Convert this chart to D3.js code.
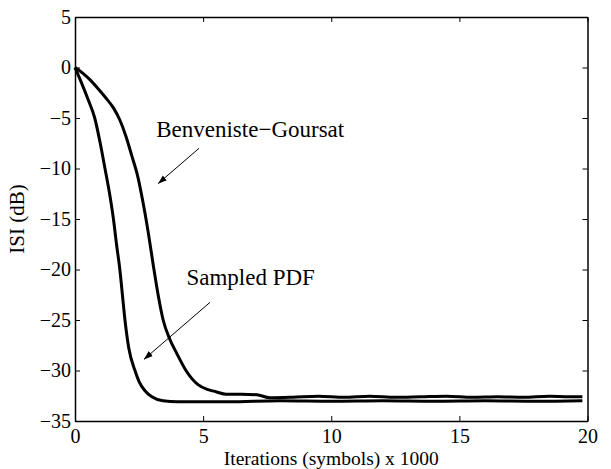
<!DOCTYPE html>
<html>
<head>
<meta charset="utf-8">
<script src="https://cdn.jsdelivr.net/npm/d3@7"></script>
<style>
  body { margin: 0; background: #fff; }
  text { font-family: "Liberation Serif", "Times New Roman", serif; fill: #000; }
</style>
</head>
<body>
<svg id="chart" width="611" height="469"></svg>
<script>
// Benveniste-Goursat curve (x in thousands of symbols, ISI in dB)
const bgX = [0, 0.3, 0.6, 0.9, 1.2, 1.5, 1.75, 2.0, 2.2, 2.45, 2.65, 2.85, 3.05, 3.25, 3.44, 3.7, 3.97, 4.33, 4.8, 5.2, 5.5, 5.9, 6.5, 7.1, 7.6, 8.5, 9.5, 10.5, 11.5, 12.5, 13.5, 14.5, 15.5, 16.5, 17.5, 18.5, 19.3, 19.8];
const bgY = [0, -0.55, -1.25, -2.1, -3.0, -4.0, -5.2, -6.9, -8.6, -10.8, -13.3, -16.2, -19.5, -22.6, -25, -26.9, -28.3, -30, -31.4, -31.9, -32.1, -32.35, -32.35, -32.4, -32.7, -32.65, -32.55, -32.65, -32.55, -32.65, -32.6, -32.55, -32.65, -32.6, -32.65, -32.55, -32.6, -32.6];

// Sampled PDF curve
const spX = [0, 0.25, 0.5, 0.77, 1.0, 1.17, 1.35, 1.5, 1.62, 1.75, 1.85, 1.95, 2.1, 2.34, 2.5, 2.73, 3.0, 3.43, 4, 6, 8, 10, 12, 14, 16, 18, 19.8];
const spY = [0, -1.5, -3.1, -5, -7.7, -10, -12.5, -15, -17.5, -20, -22.5, -25, -27.8, -30, -31.1, -32, -32.6, -33, -33.1, -33.1, -33.0, -33.05, -33.0, -33.05, -33.0, -33.05, -33.0];

const xTicks = [0, 5, 10, 15, 20];
const yTicks = [5, 0, -5, -10, -15, -20, -25, -30, -35];

// annotations in data units: label anchor, arrow tail, arrow head
const notes = [
  { text: "Benveniste\u2212Goursat", tx: 3.17, ty: -6.85, x1: 4.84, y1: -8.0, x2: 3.24, y2: -11.5 },
  { text: "Sampled PDF", tx: 4.35, ty: -21.5, x1: 5.27, y1: -23.25, x2: 2.69, y2: -28.9 }
];

const svg = d3.select("#chart");
const mL = 75, mR = 587.5, mT = 17, mB = 421;

const x = d3.scaleLinear().domain([0, 20]).range([mL, mR]);
const y = d3.scaleLinear().domain([-35, 5]).range([mB, mT]);

svg.append("defs").append("marker")
  .attr("id", "head").attr("viewBox", "0 0 10 10")
  .attr("refX", 10).attr("refY", 5)
  .attr("markerWidth", 9).attr("markerHeight", 9)
  .attr("markerUnits", "userSpaceOnUse")
  .attr("orient", "auto")
  .append("path").attr("d", "M0,1.5L10,5L0,8.5Z").attr("fill", "#000");

// axes with inward ticks, box on all four sides
const tk = 5;
const fmt = d => d < 0 ? "\u2212" + Math.abs(d) : d;
svg.append("g").attr("transform", `translate(0,${mB})`)
  .call(d3.axisBottom(x).tickValues(xTicks).tickSizeInner(-tk).tickSizeOuter(0).tickPadding(8).tickFormat(fmt));
svg.append("g").attr("transform", `translate(0,${mT})`)
  .call(d3.axisTop(x).tickValues(xTicks).tickSizeInner(-tk).tickSizeOuter(0).tickFormat(""));
svg.append("g").attr("transform", `translate(${mL},0)`)
  .call(d3.axisLeft(y).tickValues(yTicks).tickSizeInner(-tk).tickSizeOuter(0).tickPadding(4).tickFormat(fmt));
svg.append("g").attr("transform", `translate(${mR},0)`)
  .call(d3.axisRight(y).tickValues(yTicks).tickSizeInner(-tk).tickSizeOuter(0).tickFormat(""));

svg.selectAll(".domain").attr("stroke", "#000").attr("stroke-width", 1.5);
svg.selectAll(".tick line").attr("stroke", "#000").attr("stroke-width", 1);
svg.selectAll(".tick text").attr("font-family", "Liberation Serif").attr("font-size", 20).attr("fill", "#000");

// the curves
const line = d3.line().x(d => x(d[0])).y(d => y(d[1])).curve(d3.curveMonotoneX);
[[bgX, bgY], [spX, spY]].forEach(([xs, ys]) => {
  svg.append("path")
    .datum(xs.map((v, i) => [v, ys[i]]))
    .attr("d", line)
    .attr("fill", "none").attr("stroke", "#000")
    .attr("stroke-width", 3).attr("stroke-linejoin", "round");
});

// annotation arrows and labels
notes.forEach(n => {
  svg.append("line")
    .attr("x1", x(n.x1)).attr("y1", y(n.y1))
    .attr("x2", x(n.x2)).attr("y2", y(n.y2))
    .attr("stroke", "#000").attr("stroke-width", 1)
    .attr("marker-end", "url(#head)");
  svg.append("text")
    .attr("x", x(n.tx)).attr("y", y(n.ty))
    .attr("font-size", 23)
    .text(n.text);
});

// axis titles
svg.append("text")
  .attr("x", (mL + mR) / 2).attr("y", 464.5)
  .attr("text-anchor", "middle").attr("font-size", 19.5)
  .text("Iterations (symbols) x 1000");
svg.append("text")
  .attr("transform", `translate(24,${(mT + mB) / 2}) rotate(-90)`)
  .attr("text-anchor", "middle").attr("font-size", 21)
  .text("ISI (dB)");
</script>
</body>
</html>
